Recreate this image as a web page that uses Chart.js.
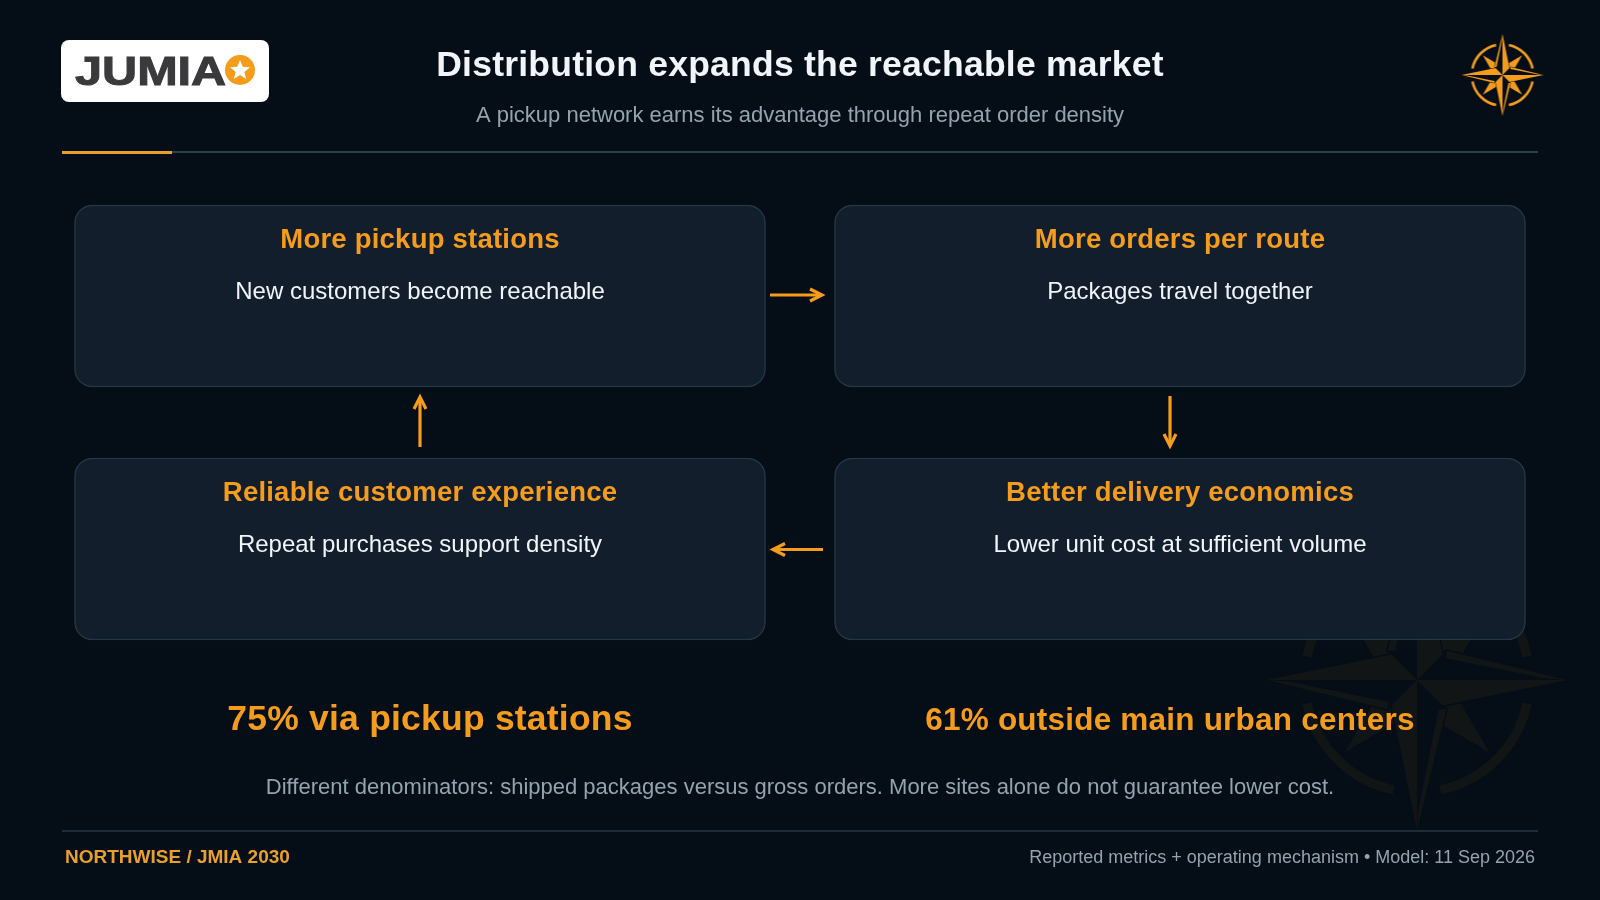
<!DOCTYPE html>
<html><head><meta charset="utf-8">
<style>html,body{margin:0;padding:0;background:#050e16;width:1600px;height:900px;overflow:hidden}canvas{display:block}</style>
<script src="https://cdn.jsdelivr.net/npm/chart.js@4"></script></head>
<body><canvas id="c" width="1600" height="900" style="width:1600px;height:900px"></canvas>
<script>
const headline = 'Distribution expands the reachable market';
const subhead = 'A pickup network earns its advantage through repeat order density';
const brand = 'JUMIA';
const columns = ['left', 'right'];
const topTitles = ['More pickup stations', 'More orders per route'];
const topNotes = ['New customers become reachable', 'Packages travel together'];
const bottomTitles = ['Reliable customer experience', 'Better delivery economics'];
const bottomNotes = ['Repeat purchases support density', 'Lower unit cost at sufficient volume'];
const topBand = [205, 387];
const bottomBand = [458, 640];
const stat1 = '75% via pickup stations';
const stat2 = '61% outside main urban centers';
const caveat = 'Different denominators: shipped packages versus gross orders. More sites alone do not guarantee lower cost.';
const footLeft = 'NORTHWISE / JMIA 2030';
const footRight = 'Reported metrics + operating mechanism \u2022 Model: 11 Sep 2026';

const ORANGE = '#f59c1c';
const FONT = '"Liberation Sans", Arial, sans-serif';
const arrowStyle = (pts,w) => ({type:'line', xAxisID:'xp', yAxisID:'y', data:pts.map(p=>({x:p[0],y:p[1]})), borderColor:ORANGE, borderWidth:w, pointRadius:0, fill:false, tension:0, borderCapStyle:'butt', borderJoinStyle:'miter', order:0});
const arrowShafts = [
  [[770,295],[820,295]],
  [[420,447],[420,399]],
  [[1170,396],[1170,444]],
  [[823,549.5],[775,549.5]]
];
const arrowHeads = [
  [[810,289],[822,295],[810,301]],
  [[414,409],[420,397],[426,409]],
  [[1164,434],[1170,446],[1176,434]],
  [[785,543.5],[773,549.5],[785,555.5]]
];

function compassSprite(R){
  const size=Math.ceil(R*2+8), cv=document.createElement('canvas');
  cv.width=size;cv.height=size;
  const c=cv.getContext('2d');
  c.translate(size/2,size/2);c.fillStyle='#f59c1c';c.strokeStyle='#f59c1c';
  c.lineWidth=R*0.062;
  [[-78,-12],[12,78],[102,168],[192,258]].forEach(a=>{c.beginPath();c.arc(0,0,R*0.75,a[0]*Math.PI/180,a[1]*Math.PI/180);c.stroke();});
  const w=R*0.17;
  for(let i=0;i<4;i++){c.save();c.rotate(Math.PI/4+i*Math.PI/2);
    const d=R*0.1;
    c.beginPath();c.moveTo(0,-R*0.68);c.lineTo(d,-R*0.3);c.lineTo(0,0);c.lineTo(-d,-R*0.3);c.closePath();c.fill();c.restore();}
  for(let i=0;i<4;i++){c.save();c.rotate(i*Math.PI/2);
    c.globalCompositeOperation='destination-out';
    c.lineWidth=R*0.02;
    c.beginPath();c.moveTo(0,-R);c.lineTo(w,-w);c.lineTo(0,0);c.lineTo(-w*1.15,-w*1.15);c.closePath();c.fill();c.stroke();
    c.restore();}
  for(let i=0;i<4;i++){c.save();c.rotate(i*Math.PI/2);
    c.beginPath();c.moveTo(0,-R);c.lineTo(w,-w);c.lineTo(0,0);c.closePath();c.fill();
    c.beginPath();c.moveTo(0,-R);c.lineTo(-w*1.15,-w*1.15);c.lineTo(-w*0.85,-w*1.15);c.lineTo(-R*0.01,-R*0.86);c.closePath();c.fill();
    c.restore();}
  return cv;
}
function compass(ctx,cx,cy,R,alpha){
  const s=compassSprite(R);
  ctx.save();ctx.globalAlpha=alpha;ctx.drawImage(s,cx-s.width/2,cy-s.height/2);ctx.restore();
}
const painter = {
  id:'painter',
  beforeDatasetsDraw(chart){
    compass(chart.ctx,1417,680,150,0.05);
  },
  afterDatasetsDraw(chart){
    const ctx=chart.ctx, xp=chart.scales.xp, xc=chart.scales.x;
    ctx.save();
    // logo
    ctx.fillStyle='#ffffff';ctx.beginPath();ctx.roundRect(61,40,208,62,8);ctx.fill();
    ctx.save();ctx.translate(75,84.5);ctx.scale(1.215,1);
    ctx.fillStyle='#3a3a3c';ctx.font='bold 40px '+FONT;ctx.textAlign='left';ctx.textBaseline='alphabetic';
    ctx.lineWidth=1;ctx.strokeStyle='#3a3a3c';
    ctx.fillText(brand,0,0);ctx.strokeText(brand,0,0);ctx.restore();
    ctx.fillStyle=ORANGE;ctx.beginPath();ctx.arc(240,70,15,0,7);ctx.fill();
    ctx.fillStyle='#fff';ctx.beginPath();
    for(let i=0;i<10;i++){const r=i%2?4.6:10.5,a=-Math.PI/2+i*Math.PI/5;ctx[i?'lineTo':'moveTo'](240+r*Math.cos(a),70.5+r*Math.sin(a));}
    ctx.closePath();ctx.fill();
    // rules
    ctx.fillStyle='#2e3f4a';ctx.fillRect(xp.getPixelForValue(62),151,1476,2);
    ctx.fillStyle='#e8a02c';ctx.fillRect(xp.getPixelForValue(62),151,110,3);
    ctx.fillStyle='#1d2c38';ctx.fillRect(xp.getPixelForValue(62),830,1476,2);
    // compass
    compass(ctx,1502.5,75,41,1);
    // text
    const t=(s,x,yy,font,col,al,sp)=>{ctx.font=font;ctx.fillStyle=col;ctx.textAlign=al||'center';ctx.textBaseline='alphabetic';ctx.letterSpacing=(sp||0)+'px';ctx.fillText(s,x,yy);ctx.letterSpacing='0px';};
    t(headline,800,76,'bold 35.5px '+FONT,'#f1f5f9','center',0.23);
    t(subhead,800,122,'22px '+FONT,'#94a3b0');
    const cols=[xc.getPixelForValue(0),xc.getPixelForValue(1)];
    cols.forEach((c,i)=>{
      t(topTitles[i],c,248,'bold 27.5px '+FONT,ORANGE,'center',0.22);
      t(topNotes[i],c,299,'24px '+FONT,'#f1f5f9');
      t(bottomTitles[i],c,501,'bold 27.5px '+FONT,ORANGE,'center',0.22);
      t(bottomNotes[i],c,552,'24px '+FONT,'#f1f5f9');
    });
    t(stat1,430,730,'bold 35.5px '+FONT,ORANGE,'center',0.21);
    t(stat2,1170,730,'bold 31.5px '+FONT,ORANGE,'center',0.21);
    t(caveat,800,794,'22px '+FONT,'#94a3b0');
    t(footLeft,65,863,'bold 19px '+FONT,'#e8a02c','left');
    t(footRight,1535,863,'18px '+FONT,'#94a3b0','right');
    ctx.restore();
  }
};
const bar=(band)=>({type:'bar',xAxisID:'x',yAxisID:'y',data:columns.map(()=>band),backgroundColor:'#121e2c',borderColor:'#243846',borderWidth:1.5,borderRadius:18,borderSkipped:false,barThickness:691,grouped:false,order:1});
new Chart(document.getElementById('c'),{
  data:{labels:columns,datasets:[bar(topBand),bar(bottomBand),...arrowShafts.map(a=>arrowStyle(a,3.2)),...arrowHeads.map(a=>arrowStyle(a,3.2))]},
  plugins:[painter],
  options:{responsive:false,animation:false,devicePixelRatio:1,
    layout:{padding:{left:40,right:40,top:0,bottom:0}},
    plugins:{legend:{display:false},tooltip:{enabled:false},title:{display:false}},
    scales:{
      x:{type:'category',display:false,offset:true},
      xp:{type:'linear',display:false,min:40,max:1560},
      y:{type:'linear',display:false,reverse:true,min:0,max:900}
    }}
});
</script></body></html>
